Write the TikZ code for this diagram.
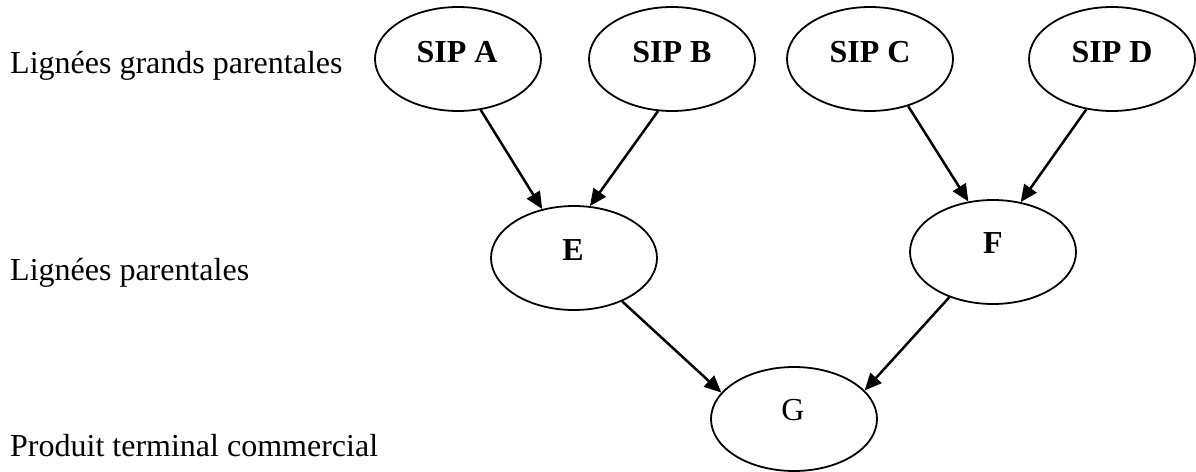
\documentclass[tikz,border=0pt]{standalone}
\usepackage{fontspec}
\setmainfont{Liberation Serif}
\usetikzlibrary{shapes.geometric,arrows.meta}

\tikzset{
  lineage/.style={draw, ellipse, line width=1.8pt, minimum width=166pt,
    minimum height=104pt, inner sep=0pt},
  caption/.style={anchor=base, inner sep=0pt, font=\fontsize{32}{38}\selectfont},
  boldcap/.style={caption, font=\fontsize{32}{38}\selectfont\bfseries},
  rowlabel/.style={anchor=base west, inner sep=0pt, font=\fontsize{32}{38}\selectfont},
  cross/.style={line width=2.5pt, -{Triangle[length=17pt,width=15pt]}}
}

\begin{document}
\begin{tikzpicture}[x=1pt, y=-1pt]
\useasboundingbox (0,0) rectangle (1196,471);

% generation labels
\node[rowlabel] (l1) at (10,73) {Lignées grands parentales};
\node[rowlabel] (l2) at (10,280) {Lignées parentales};
\node[rowlabel] (l3) at (10,456) {Produit terminal commercial};

% grand-parental lines
\node[lineage] (A) at (458,59) {};
\node[lineage] (B) at (672,59) {};
\node[lineage] (C) at (870,59) {};
\node[lineage] (D) at (1112,59) {};
\node[boldcap] (tA) at (457,62) {SIP A};
\node[boldcap] (tB) at (672,62) {SIP B};
\node[boldcap] (tC) at (870,62) {SIP C};
\node[boldcap] (tD) at (1112,62) {SIP D};

% parental lines
\node[lineage] (E) at (574,258) {};
\node[lineage] (F) at (993,252) {};
\node[boldcap] (tE) at (573,260) {E};
\node[boldcap] (tF) at (993,253) {F};

% commercial cross
\node[lineage] (G) at (794,419) {};
\node[caption] (tG) at (793,420) {G};

% crosses
\draw[cross] (A.-66.5) -- (E.123.2);
\draw[cross] (B.-105.8) -- (E.73.9);
\draw[cross] (C.-51.6) -- (F.116.6);
\draw[cross] (D.-117.8) -- (F.61.6);
\draw[cross] (E.-42.6) -- (G.160.2);
\draw[cross] (F.-134.3) -- (G.22.7);
\end{tikzpicture}
\end{document}
